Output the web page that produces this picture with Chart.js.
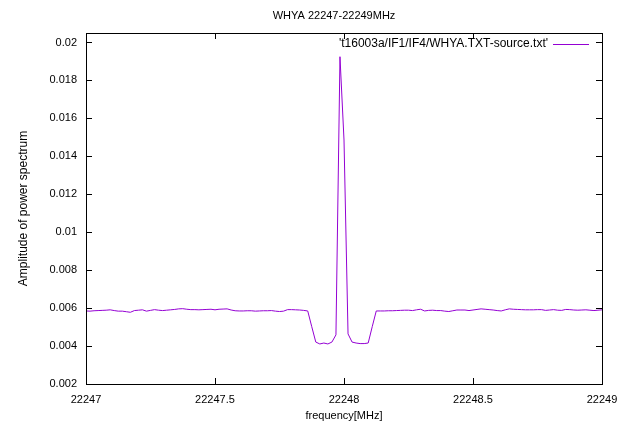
<!DOCTYPE html>
<html>
<head>
<meta charset="utf-8">
<script src="https://cdn.jsdelivr.net/npm/chart.js@4/dist/chart.umd.min.js"></script>
<style>
  html, body { margin: 0; padding: 0; background: #fff; }
</style>
</head>
<body>
<canvas id="spec" width="632" height="423"></canvas>
<script>
const chartTitle = 'WHYA 22247-22249MHz';
const seriesLabel = "'t16003a/IF1/IF4/WHYA.TXT-source.txt'";
const xLabel = 'frequency[MHz]';
const yLabel = 'Amplitude of power spectrum';

// channel grid: 2 MHz over 128 channels
const startFreq = 22247;
const chanWidth = 0.015625;

// amplitude per channel
const amplitude = [
  0.00585, 0.00584, 0.00586, 0.00587, 0.00588, 0.00589, 0.00591, 0.00587, 0.00584, 0.00584,
  0.00581, 0.00578, 0.00587, 0.00589, 0.00591, 0.00584, 0.00588, 0.00592, 0.00589, 0.00587,
  0.00589, 0.00591, 0.00593, 0.00596, 0.00597, 0.00594, 0.00592, 0.00592, 0.00591, 0.00592,
  0.00593, 0.00594, 0.00591, 0.00594, 0.00595, 0.00596, 0.00590, 0.00586, 0.00585, 0.00585,
  0.00586, 0.00586, 0.00584, 0.00585, 0.00586, 0.00586, 0.00587, 0.00584, 0.00582, 0.00584,
  0.00592, 0.00592, 0.00591, 0.00590, 0.00588, 0.00585, 0.00502, 0.00421, 0.00411, 0.00416,
  0.00411, 0.00421, 0.00459, 0.01925, 0.01486, 0.00464, 0.00421, 0.00416, 0.00413, 0.00413,
  0.00416, 0.00502, 0.00585, 0.00585, 0.00585, 0.00586, 0.00586, 0.00587, 0.00588, 0.00589,
  0.00589, 0.00587, 0.00591, 0.00594, 0.00585, 0.00588, 0.00589, 0.00587, 0.00587, 0.00584,
  0.00582, 0.00586, 0.00590, 0.00590, 0.00590, 0.00587, 0.00590, 0.00593, 0.00596, 0.00594,
  0.00592, 0.00590, 0.00587, 0.00585, 0.00591, 0.00596, 0.00594, 0.00593, 0.00592, 0.00591,
  0.00591, 0.00591, 0.00592, 0.00592, 0.00588, 0.00590, 0.00592, 0.00589, 0.00588, 0.00593,
  0.00592, 0.00590, 0.00589, 0.00590, 0.00591, 0.00589, 0.00587, 0.00589, 0.00591
];

const xTicks = [22247, 22247.5, 22248, 22248.5, 22249];
const yTicks = [0.002, 0.004, 0.006, 0.008, 0.01, 0.012, 0.014, 0.016, 0.018, 0.02];

const lineColor = '#9400d3';
const fontFamily = '"Liberation Sans", Arial, Helvetica, sans-serif';
const baseFont = { family: fontFamily, size: 11 };

const points = amplitude.map((v, i) => ({ x: startFreq + i * chanWidth, y: v }));

// gnuplot-like frame: box, inward ticks on all four sides, title and key
const frame = {
  id: 'frame',
  afterDatasetsDraw(chart) {
    const { ctx, chartArea: a, scales } = chart;
    const tick = 6;
    ctx.save();
    ctx.strokeStyle = '#000';
    ctx.lineWidth = 1;
    ctx.beginPath();
    scales.x.ticks.forEach(t => {
      const px = Math.round(scales.x.getPixelForValue(t.value)) + 0.5;
      ctx.moveTo(px, a.bottom); ctx.lineTo(px, a.bottom - tick);
      ctx.moveTo(px, a.top); ctx.lineTo(px, a.top + tick);
    });
    scales.y.ticks.forEach(t => {
      const py = Math.round(scales.y.getPixelForValue(t.value)) + 0.5;
      ctx.moveTo(a.left, py); ctx.lineTo(a.left + tick, py);
      ctx.moveTo(a.right, py); ctx.lineTo(a.right - tick, py);
    });
    ctx.stroke();
    ctx.strokeRect(Math.round(a.left) + 0.5, Math.round(a.top) + 0.5,
      Math.round(a.right - a.left), Math.round(a.bottom - a.top));

    ctx.fillStyle = '#000';
    ctx.textBaseline = 'middle';
    ctx.textAlign = 'center';
    ctx.font = '11px ' + fontFamily;
    ctx.fillText(chartTitle, 334, 16);

    // key
    ctx.textAlign = 'right';
    ctx.font = '12px ' + fontFamily;
    ctx.fillText(seriesLabel, 548, 44);
    ctx.strokeStyle = lineColor;
    ctx.beginPath();
    ctx.moveTo(553, 44.5); ctx.lineTo(589, 44.5);
    ctx.stroke();
    ctx.restore();
  }
};

new Chart(document.getElementById('spec'), {
  type: 'line',
  data: {
    datasets: [{
      label: seriesLabel,
      data: points,
      borderColor: lineColor,
      borderWidth: 1,
      pointRadius: 0,
      tension: 0,
      fill: false
    }]
  },
  options: {
    responsive: false,
    animation: false,
    devicePixelRatio: 1,
    layout: { padding: { top: 33, right: 30, bottom: 0, left: 0 } },
    plugins: {
      legend: { display: false },
      title: { display: false },
      tooltip: { enabled: false }
    },
    scales: {
      x: {
        type: 'linear',
        min: 22247,
        max: 22249,
        afterBuildTicks: s => { s.ticks = xTicks.map(v => ({ value: v })); },
        afterFit: s => { s.height = 39; },
        grid: { display: false, drawTicks: false },
        border: { display: false },
        ticks: {
          color: '#000', font: baseFont, padding: 9,
          maxRotation: 0, autoSkip: false,
          callback: v => String(v)
        },
        title: { display: true, text: xLabel, color: '#000', font: baseFont, padding: { top: 0, bottom: 0 } }
      },
      y: {
        type: 'linear',
        min: 0.002,
        max: 0.0205,
        afterBuildTicks: s => { s.ticks = yTicks.map(v => ({ value: v })); },
        afterFit: s => { s.width = 86; },
        grid: { display: false, drawTicks: false },
        border: { display: false },
        ticks: {
          color: '#000', font: baseFont, padding: 9,
          callback: v => Number(v.toFixed(4)).toString()
        },
        title: { display: true, text: yLabel, color: '#000', font: { family: fontFamily, size: 12 }, padding: { top: 16, bottom: 0 } }
      }
    }
  },
  plugins: [frame]
});
</script>
</body>
</html>
